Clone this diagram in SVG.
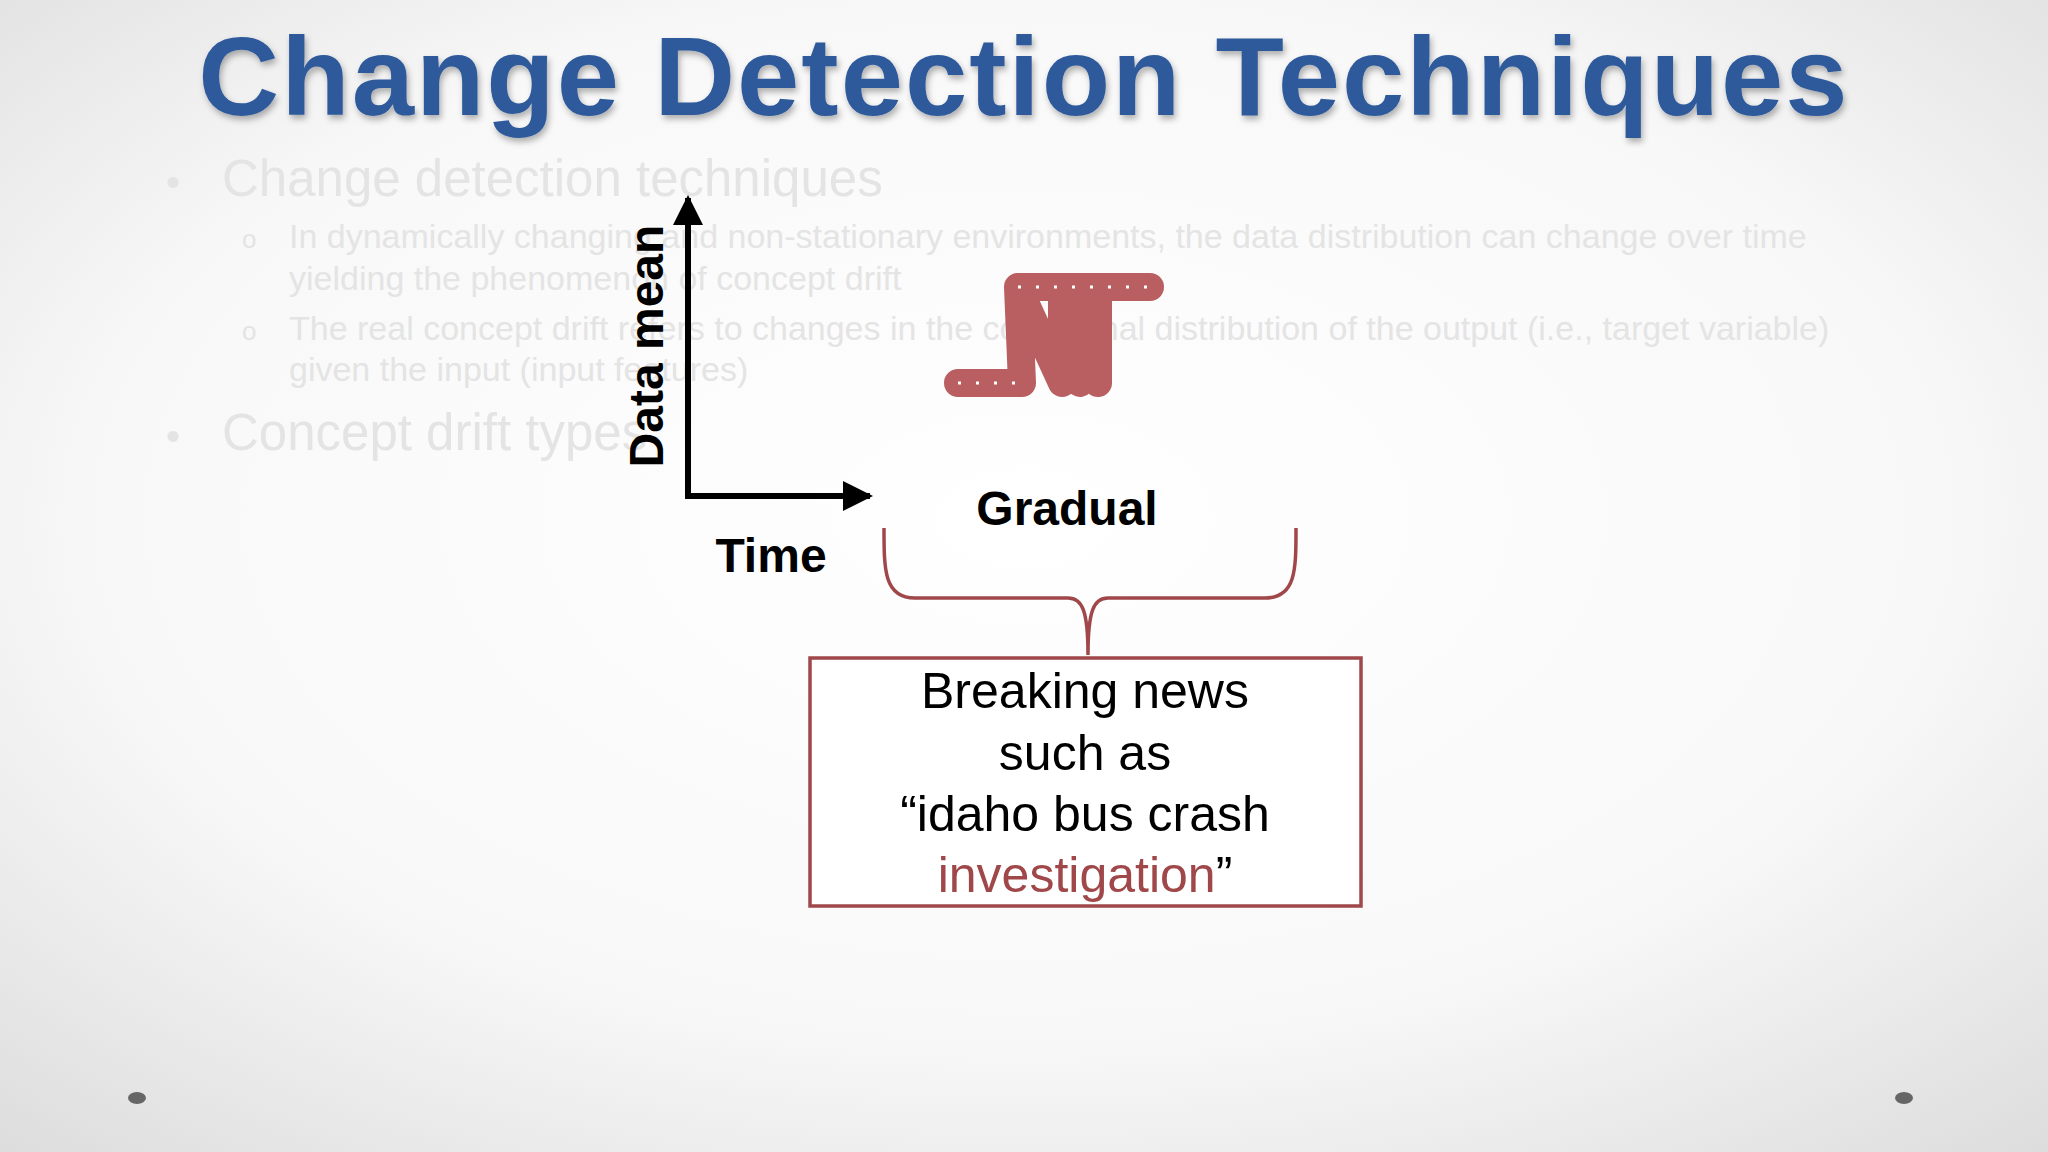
<svg xmlns="http://www.w3.org/2000/svg" width="2048" height="1152" viewBox="0 0 2048 1152">
<defs>
<radialGradient id="bg" cx="50%" cy="45%" r="75%"><stop offset="0" stop-color="#ffffff"/><stop offset="0.6" stop-color="#f8f8f8"/><stop offset="1" stop-color="#dcdcdc"/></radialGradient>
<filter id="sh" x="-5%" y="-20%" width="110%" height="140%"><feDropShadow dx="2" dy="4" stdDeviation="3" flood-color="#000" flood-opacity="0.3"/></filter>
<marker id="ar" viewBox="0 0 10 10" refX="9" refY="5" markerWidth="5" markerHeight="5" orient="auto" markerUnits="strokeWidth"><path d="M0,0L10,5L0,10z" fill="#000"/></marker>
<style>
.f{font-family:"Liberation Sans",Arial,sans-serif}
.fade{fill:#e4e4e4}
.b{font-weight:bold;fill:#000;font-size:48px}
.bx{font-size:50px;fill:#000;text-anchor:middle}
</style>
</defs>
<rect width="2048" height="1152" fill="url(#bg)"/>
<text class="f" x="1024" y="115" text-anchor="middle" font-size="112" font-weight="bold" letter-spacing="2" fill="#2f5a9b" filter="url(#sh)">Change Detection Techniques</text>
<g class="f fade">
<text x="166" y="196" font-size="40">•</text>
<text x="222" y="196" font-size="51">Change detection techniques</text>
<text x="242" y="248" font-size="26">o</text>
<text x="289" y="248" font-size="34">In dynamically changing and non-stationary environments, the data distribution can change over time</text>
<text x="289" y="290" font-size="34">yielding the phenomenon of concept drift</text>
<text x="242" y="340" font-size="26">o</text>
<text x="289" y="340" font-size="34">The real concept drift refers to changes in the conditional distribution of the output (i.e., target variable)</text>
<text x="289" y="381" font-size="34">given the input (input features)</text>
<text x="166" y="450" font-size="40">•</text>
<text x="222" y="450" font-size="51">Concept drift types</text>
</g>
<g id="axes" stroke="#000" stroke-width="6" fill="none">
<path d="M688,496V198" marker-end="url(#ar)"/>
<path d="M685,496H870" marker-end="url(#ar)"/>
</g>
<text class="f b" transform="translate(663,346) rotate(-90)" text-anchor="middle">Data mean</text>
<text class="f b" x="771" y="572" text-anchor="middle">Time</text>
<text class="f b" x="1067" y="525" text-anchor="middle">Gradual</text>
<g id="drift" fill="none" stroke-linecap="round" stroke-linejoin="round">
<path d="M958,383H1022L1018,287L1062,383L1062,287L1080,383L1090,287L1098,383L1098,287M1018,287H1150" stroke="#b95e61" stroke-width="28"/>
<path d="M958,383H1022M1018,287H1150" stroke="#fff" stroke-width="3" stroke-dasharray="3 15" stroke-linecap="butt"/>
</g>
<g id="connectors">
<path d="M884,528C884,570 884,598 915,598H1068C1082,598 1088,610 1088,655C1088,610 1094,598 1108,598H1265C1296,598 1296,570 1296,528" fill="none" stroke="#a0474a" stroke-width="3.5"/>
</g>
<g id="box">
<rect x="810" y="658" width="551" height="248" fill="#fff" stroke="#a0474a" stroke-width="3.5"/>
<text class="f bx" x="1085" y="708">Breaking news</text>
<text class="f bx" x="1085" y="770">such as</text>
<text class="f bx" x="1085" y="831">“idaho bus crash</text>
<text class="f bx" x="1085" y="892"><tspan fill="#a0474a">investigation</tspan>”</text>
</g>
<ellipse cx="137" cy="1098" rx="9" ry="6" fill="#666"/>
<ellipse cx="1904" cy="1098" rx="9" ry="6" fill="#666"/>
</svg>
